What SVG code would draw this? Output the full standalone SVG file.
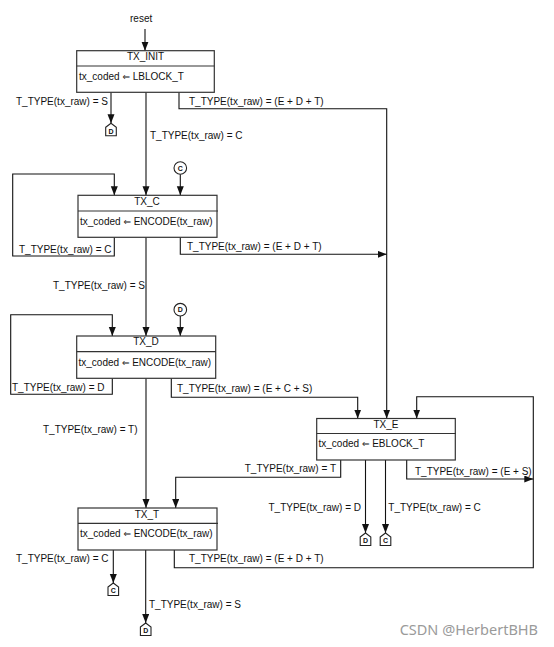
<svg xmlns="http://www.w3.org/2000/svg" width="554" height="647" viewBox="0 0 554 647">
<style>
text{font-family:"Liberation Sans",Arial,"DejaVu Sans",sans-serif;font-size:10px;fill:#111}
.ar{font-family:"DejaVu Sans",sans-serif;font-size:9px}
.box{fill:#fff;stroke:#333;stroke-width:1.2}
.div{stroke:#333;stroke-width:1.2}
.t{text-anchor:middle}
.ln{fill:none;stroke:#111;stroke-width:1.1}
.pg{fill:#fff;stroke:#222;stroke-width:1.1}
.sm{font-size:7px;font-weight:bold;text-anchor:middle}
.wm{font-family:"Noto Sans","Open Sans",sans-serif;font-size:14.5px;fill:#9a9a9a;text-anchor:end}
</style>
<defs>
<marker id="ah" markerUnits="userSpaceOnUse" markerWidth="10" markerHeight="8" refX="9" refY="3.5" orient="auto">
<path d="M0,0 L9,3.5 L0,7 Z" fill="#111"/>
</marker>
</defs>
<g id="connectors" class="ln" marker-end="url(#ah)">
<path d="M145,29 V50.7"/>
<path d="M111,92.3 V123.3"/>
<path d="M146,92.3 V195.3"/>
<path d="M179,92.3 V108.7 H386.7 V418.5"/>
<path d="M180.3,174.3 V195.3"/>
<path d="M114.3,237.3 V256 H12.7 V174 H114.3 V195.3"/>
<path d="M180.3,237.3 V254.3 H386.7"/>
<path d="M146,237.3 V336"/>
<path d="M180.3,316 V336"/>
<path d="M112.3,378.3 V394.3 H10.7 V314.7 H112.3 V336"/>
<path d="M171.3,378.3 V397.3 H357.7 V418.5"/>
<path d="M146,378.3 V508"/>
<path d="M406.7,460 V479 H533.3"/>
<path d="M174.3,550 V567.7 H533.3 V396.7 H416.7 V418.5"/>
<path d="M340.7,460 V477.3 H175.7 V508"/>
<path d="M365.5,460 V533"/>
<path d="M385.5,460 V533"/>
<path d="M113.3,550 V583"/>
<path d="M145.7,550 V623"/>
</g>
<g id="labels">
<text x="130" y="22">reset</text>
<text x="16" y="105">T_TYPE(tx_raw) = S</text>
<text x="189" y="104.5">T_TYPE(tx_raw) = (E + D + T)</text>
<text x="150" y="139">T_TYPE(tx_raw) = C</text>
<text x="19" y="252.5">T_TYPE(tx_raw) = C</text>
<text x="187" y="250">T_TYPE(tx_raw) = (E + D + T)</text>
<text x="53" y="289">T_TYPE(tx_raw) = S</text>
<text x="12" y="391">T_TYPE(tx_raw) = D</text>
<text x="177" y="391.5">T_TYPE(tx_raw) = (E + C + S)</text>
<text x="43" y="433">T_TYPE(tx_raw) = T)</text>
<text x="336" y="471.5" text-anchor="end">T_TYPE(tx_raw) = T</text>
<text x="415" y="475">T_TYPE(tx_raw) = (E + S)</text>
<text x="361" y="511" text-anchor="end">T_TYPE(tx_raw) = D</text>
<text x="388.3" y="511">T_TYPE(tx_raw) = C</text>
<text x="16" y="562">T_TYPE(tx_raw) = C</text>
<text x="189" y="562">T_TYPE(tx_raw) = (E + D + T)</text>
<text x="149" y="608">T_TYPE(tx_raw) = S</text>
</g>
<g id="TX_INIT">
<rect class="box" x="76.7" y="50.7" width="137.6" height="41.6"/>
<line class="div" x1="76.7" y1="66" x2="214.3" y2="66"/>
<text class="t" x="145.5" y="59.5">TX_INIT</text>
<text x="79" y="80">tx_coded <tspan class="ar">⇐</tspan> LBLOCK_T</text>
</g>
<g id="TX_C">
<rect class="box" x="78" y="195.3" width="139" height="42"/>
<line class="div" x1="78" y1="211" x2="218" y2="211"/>
<text class="t" x="147" y="204.5">TX_C</text>
<text x="80" y="225">tx_coded <tspan class="ar">⇐</tspan> ENCODE(tx_raw)</text>
</g>
<g id="TX_D">
<rect class="box" x="76.7" y="336" width="139" height="42.3"/>
<line class="div" x1="76.7" y1="351.7" x2="216" y2="351.7"/>
<text class="t" x="146" y="345">TX_D</text>
<text x="78.5" y="365.5">tx_coded <tspan class="ar">⇐</tspan> ENCODE(tx_raw)</text>
</g>
<g id="TX_E">
<rect class="box" x="316.7" y="418.5" width="138.6" height="41.5"/>
<line class="div" x1="316.7" y1="433.5" x2="456" y2="433.5"/>
<text class="t" x="386" y="428">TX_E</text>
<text x="318.5" y="446.5">tx_coded <tspan class="ar">⇐</tspan> EBLOCK_T</text>
</g>
<g id="TX_T">
<rect class="box" x="78" y="508" width="139" height="42"/>
<line class="div" x1="78" y1="523.3" x2="218" y2="523.3"/>
<text class="t" x="147" y="518">TX_T</text>
<text x="80" y="537">tx_coded <tspan class="ar">⇐</tspan> ENCODE(tx_raw)</text>
</g>
<g id="conn_C_in">
<circle class="pg" cx="180.3" cy="168" r="6.3"/>
<text class="sm" x="180.3" y="170.5">C</text>
</g>
<g id="conn_D_in">
<circle class="pg" cx="180.3" cy="309.7" r="6.3"/>
<text class="sm" x="180.3" y="312.2">D</text>
</g>
<g id="off_D1">
<path class="pg" d="M105.7,127.3 L111,123.3 L116.3,127.3 V135.8 H105.7 Z"/>
<text class="sm" x="111" y="133.5">D</text>
</g>
<g id="off_D2">
<path class="pg" d="M360.2,537 L365.5,533 L370.8,537 V545.5 H360.2 Z"/>
<text class="sm" x="365.5" y="543.2">D</text>
</g>
<g id="off_C1">
<path class="pg" d="M380.2,537 L385.5,533 L390.8,537 V545.5 H380.2 Z"/>
<text class="sm" x="385.5" y="543.2">C</text>
</g>
<g id="off_C2">
<path class="pg" d="M108,587 L113.3,583 L118.6,587 V595.5 H108 Z"/>
<text class="sm" x="113.3" y="593.2">C</text>
</g>
<g id="off_D3">
<path class="pg" d="M140.4,627 L145.7,623 L151,627 V635.5 H140.4 Z"/>
<text class="sm" x="145.7" y="633.2">D</text>
</g>
<text class="wm" x="538" y="635">CSDN @HerbertBHB</text>
</svg>
